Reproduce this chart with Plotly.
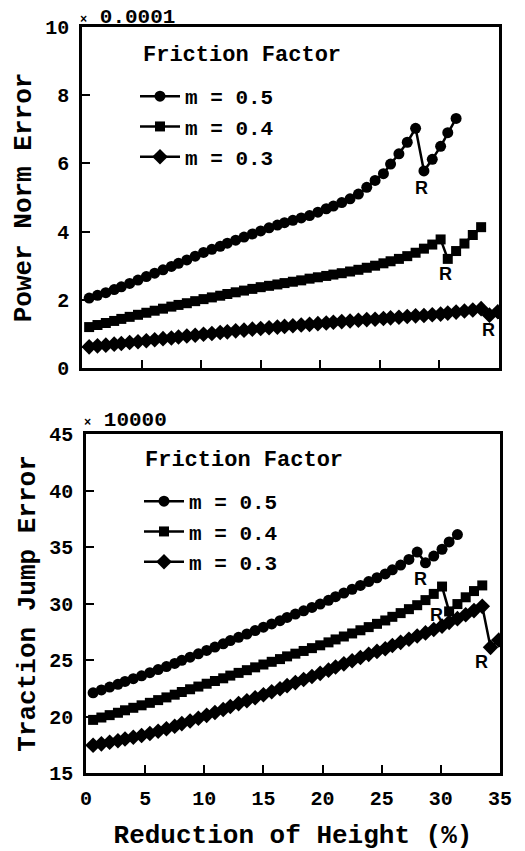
import plotly.graph_objects as go

# ---------------- data ----------------
reduction = [0.6, 1.3, 2.0, 2.7, 3.3, 4.0, 4.7, 5.4, 6.1, 6.8, 7.5, 8.1, 8.8, 9.5, 10.2,
             10.9, 11.6, 12.2, 12.9, 13.6, 14.3, 15.0, 15.7, 16.4, 17.0, 17.7, 18.4, 19.1,
             19.8, 20.5, 21.1, 21.8, 22.5, 23.2, 23.9, 24.6, 25.3, 25.9, 26.6, 27.3, 28.0,
             28.7, 29.4, 30.1, 30.7, 31.4, 32.1, 32.8, 33.5, 34.2, 34.9]

series_names = ["m = 0.5", "m = 0.4", "m = 0.3"]

# Power norm error (x 0.0001)
power_m05 = [2.05, 2.13, 2.21, 2.30, 2.38, 2.48, 2.58, 2.68,
             2.78, 2.88, 2.98, 3.07, 3.17, 3.28, 3.39,
             3.48, 3.57, 3.66, 3.75, 3.84, 3.93, 4.02,
             4.11, 4.19, 4.26, 4.33, 4.40, 4.47, 4.57,
             4.67, 4.75, 4.85, 4.96, 5.10, 5.30, 5.50, 5.70,
             5.98, 6.28, 6.62, 7.03,
             5.78, 6.12, 6.50, 6.90, 7.32]
power_m04 = [1.20, 1.26, 1.32, 1.38, 1.44, 1.50, 1.56, 1.62,
             1.68, 1.74, 1.80, 1.85, 1.90, 1.96, 2.02,
             2.07, 2.12, 2.17, 2.22, 2.27, 2.32, 2.37,
             2.41, 2.45, 2.49, 2.53, 2.57, 2.62, 2.66,
             2.70, 2.74, 2.78, 2.83, 2.88, 2.94, 3.00, 3.07,
             3.13, 3.20, 3.28, 3.38, 3.50, 3.62, 3.77,
             3.20, 3.43, 3.65, 3.90, 4.13]
power_m03 = [0.62, 0.65, 0.67, 0.70, 0.72, 0.75, 0.77, 0.80,
             0.83, 0.86, 0.88, 0.91, 0.94, 0.96, 0.99,
             1.01, 1.04, 1.06, 1.09, 1.11, 1.14, 1.16,
             1.18, 1.20, 1.22, 1.24, 1.26, 1.28, 1.30,
             1.32, 1.34, 1.36, 1.38, 1.40, 1.42, 1.43, 1.45,
             1.47, 1.49, 1.51, 1.53, 1.54, 1.56, 1.58,
             1.61, 1.64, 1.67, 1.70, 1.74,
             1.55, 1.65]

# Traction jump error (x 10000)
traction_m05 = [22.10, 22.35, 22.60, 22.85, 23.10, 23.35, 23.60, 23.88,
                24.15, 24.42, 24.70, 24.97, 25.25, 25.55, 25.85,
                26.14, 26.43, 26.72, 27.01, 27.30, 27.60, 27.90,
                28.19, 28.48, 28.77, 29.06, 29.35, 29.65, 29.95,
                30.28, 30.60, 30.93, 31.26, 31.60, 31.94, 32.28, 32.62,
                32.98, 33.40, 33.90, 34.55,
                33.60, 34.20, 34.80, 35.45, 36.10]
traction_m04 = [19.70, 19.91, 20.12, 20.33, 20.55, 20.77, 20.99, 21.21,
                21.45, 21.69, 21.93, 22.17, 22.41, 22.65, 22.90,
                23.14, 23.38, 23.62, 23.86, 24.10, 24.35, 24.60,
                24.84, 25.08, 25.32, 25.56, 25.80, 26.05, 26.30,
                26.56, 26.82, 27.08, 27.35, 27.63, 27.91, 28.20, 28.50,
                28.82, 29.15, 29.50, 29.85, 30.30, 30.85, 31.50,
                29.30, 29.95, 30.55, 31.10, 31.60]
traction_m03 = [17.45, 17.58, 17.72, 17.86, 18.01, 18.16, 18.32, 18.50,
                18.70, 18.92, 19.14, 19.37, 19.60, 19.84, 20.10,
                20.36, 20.62, 20.88, 21.14, 21.40, 21.66, 21.92,
                22.19, 22.46, 22.73, 23.00, 23.27, 23.54, 23.82,
                24.10, 24.38, 24.66, 24.94, 25.22, 25.50, 25.76, 26.00,
                26.28, 26.56, 26.84, 27.12, 27.40, 27.70, 28.00,
                28.33, 28.66, 29.00, 29.37, 29.75,
                26.12, 26.77]

# "R" (remeshing) label positions
r_top_x = [28.5, 30.5, 34.1]
r_top_y = [5.29, 2.75, 1.11]
r_bot_x = [28.3, 29.6, 33.4]
r_bot_y = [32.2, 29.0, 24.85]

x_ticks = [0, 5, 10, 15, 20, 25, 30, 35]

# ---------------- styling ----------------
W, H = 525, 851
MONO = "Liberation Mono"
SANS = "Liberation Sans"
symbols = ["circle", "square", "diamond"]
msizes = [11, 10, 12]


def px_x(p):
    return p / W


def px_y(p):
    return 1 - p / H


fig = go.Figure()

for name, ys, sym, ms in zip(series_names, [power_m05, power_m04, power_m03], symbols, msizes):
    fig.add_trace(go.Scatter(
        x=reduction[:len(ys)], y=ys, name=name, mode="lines+markers",
        line=dict(color="black", width=2.5),
        marker=dict(symbol=sym, size=ms, color="black"),
        xaxis="x", yaxis="y", legend="legend"))

for name, ys, sym, ms in zip(series_names, [traction_m05, traction_m04, traction_m03], symbols, msizes):
    fig.add_trace(go.Scatter(
        x=reduction[:len(ys)], y=ys, name=name, mode="lines+markers",
        line=dict(color="black", width=2.5),
        marker=dict(symbol=sym, size=ms, color="black"),
        xaxis="x2", yaxis="y2", legend="legend2"))

axis_common = dict(showline=True, linewidth=2.5, linecolor="black", mirror=True,
                   ticks="inside", ticklen=8, tickwidth=2, tickcolor="black",
                   showgrid=False, zeroline=False, automargin=False,
                   tickfont=dict(family=MONO, size=20, color="black", weight="bold"))

title_font = dict(family=MONO, size=26, color="black", weight="bold")
legend_font = dict(family=MONO, size=21, color="black", weight="bold")
ff_font = dict(family=MONO, size=22, color="black", weight="bold")
exp_font = dict(family=MONO, size=21, color="black", weight="bold")
r_font = dict(family=SANS, size=18, color="black", weight="bold")

fig.update_layout(
    width=W, height=H, margin=dict(l=0, r=0, t=0, b=0),
    paper_bgcolor="white", plot_bgcolor="white",
    xaxis=dict(domain=[px_x(82), px_x(499)], range=[0, 35], tickvals=x_ticks,
               showticklabels=False, anchor="y", **axis_common),
    yaxis=dict(domain=[px_y(368), px_y(27)], range=[0, 10], dtick=2, anchor="x",
               ticklabelstandoff=6,
               title=dict(text="Power Norm Error", font=title_font, standoff=7),
               **axis_common),
    xaxis2=dict(domain=[px_x(86), px_x(500)], range=[0, 35], tickvals=x_ticks,
                anchor="y2", ticklabelstandoff=5,
                title=dict(text="Reduction of Height (%)", font=title_font, standoff=19),
                **axis_common),
    yaxis2=dict(domain=[px_y(773), px_y(434)], range=[15, 45], dtick=5, anchor="x2",
                ticklabelstandoff=6,
                title=dict(text="Traction Jump Error", font=title_font, standoff=7),
                **axis_common),
    legend=dict(x=px_x(135), y=px_y(76), xanchor="left", yanchor="top",
                bgcolor="rgba(0,0,0,0)", font=legend_font,
                itemwidth=40, tracegroupgap=0),
    legend2=dict(x=px_x(139), y=px_y(481), xanchor="left", yanchor="top",
                 bgcolor="rgba(0,0,0,0)", font=legend_font,
                 itemwidth=40, tracegroupgap=0),
    showlegend=True,
)

annotations = [
    dict(text="Friction Factor", x=px_x(141), y=px_y(55), xref="paper", yref="paper",
         xanchor="left", yanchor="middle", showarrow=False, font=ff_font),
    dict(text="Friction Factor", x=px_x(143), y=px_y(460), xref="paper", yref="paper",
         xanchor="left", yanchor="middle", showarrow=False, font=ff_font),
    dict(text="<span style='font-size:12px'>×</span> 0.0001", x=px_x(78), y=px_y(17),
         xref="paper", yref="paper", xanchor="left", yanchor="middle", showarrow=False,
         font=exp_font),
    dict(text="<span style='font-size:12px'>×</span> 10000", x=px_x(82), y=px_y(421),
         xref="paper", yref="paper", xanchor="left", yanchor="middle", showarrow=False,
         font=exp_font),
]
for rx, ry in zip(r_top_x, r_top_y):
    annotations.append(dict(text="R", x=rx, y=ry, xref="x", yref="y", showarrow=False,
                            font=r_font))
for rx, ry in zip(r_bot_x, r_bot_y):
    annotations.append(dict(text="R", x=rx, y=ry, xref="x2", yref="y2", showarrow=False,
                            font=r_font))
fig.update_layout(annotations=annotations)

fig.write_html("out.html")
